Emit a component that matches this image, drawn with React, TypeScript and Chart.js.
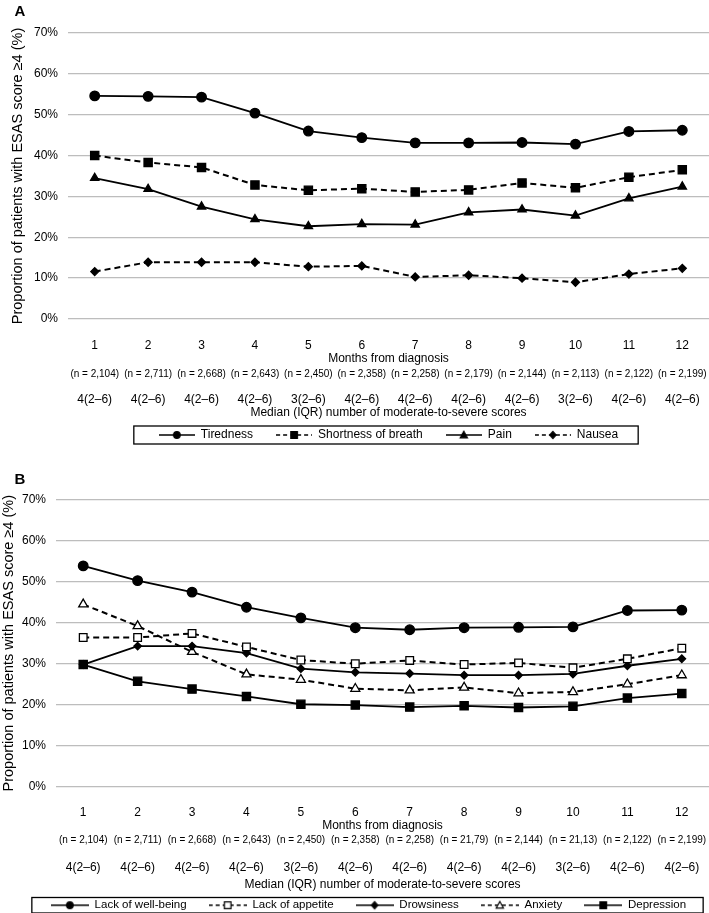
import React, { useEffect, useRef } from 'react';
import { Chart, registerables } from 'chart.js';

Chart.register(...registerables);

// ---------- data ----------
const months = ['1', '2', '3', '4', '5', '6', '7', '8', '9', '10', '11', '12'];

const nCountsA = ['(n = 2,104)', '(n = 2,711)', '(n = 2,668)', '(n = 2,643)', '(n = 2,450)', '(n = 2,358)',
  '(n = 2,258)', '(n = 2,179)', '(n = 2,144)', '(n = 2,113)', '(n = 2,122)', '(n = 2,199)'];
const nCountsB = ['(n = 2,104)', '(n = 2,711)', '(n = 2,668)', '(n = 2,643)', '(n = 2,450)', '(n = 2,358)',
  '(n = 2,258)', '(n = 21,79)', '(n = 2,144)', '(n = 21,13)', '(n = 2,122)', '(n = 2,199)'];
const medianIqr = ['4(2–6)', '4(2–6)', '4(2–6)', '4(2–6)', '3(2–6)', '4(2–6)',
  '4(2–6)', '4(2–6)', '4(2–6)', '3(2–6)', '4(2–6)', '4(2–6)'];

// Panel A
const tiredness = [54.6, 54.5, 54.3, 50.4, 46.0, 44.4, 43.1, 43.1, 43.2, 42.8, 45.9, 46.2];
const shortnessOfBreath = [40.0, 38.3, 37.1, 32.8, 31.5, 31.9, 31.1, 31.6, 33.3, 32.1, 34.7, 36.5];
const pain = [34.5, 31.8, 27.5, 24.4, 22.7, 23.2, 23.1, 26.1, 26.8, 25.3, 29.5, 32.4];
const nausea = [11.6, 13.9, 13.9, 13.9, 12.8, 13.0, 10.3, 10.7, 10.0, 9.0, 11.0, 12.4];

// Panel B
const lackOfWellBeing = [53.9, 50.3, 47.5, 43.8, 41.2, 38.8, 38.3, 38.8, 38.9, 39.0, 43.0, 43.1];
const lackOfAppetite = [36.4, 36.4, 37.4, 34.1, 30.9, 30.0, 30.8, 29.8, 30.2, 29.0, 31.2, 33.8];
const drowsiness = [29.8, 34.3, 34.3, 32.6, 28.8, 27.9, 27.6, 27.2, 27.2, 27.5, 29.5, 31.2];
const anxiety = [44.5, 39.2, 32.9, 27.4, 26.1, 23.9, 23.5, 24.2, 22.8, 23.1, 25.0, 27.2];
const depression = [29.8, 25.7, 23.8, 22.0, 20.1, 19.9, 19.4, 19.7, 19.3, 19.6, 21.6, 22.7];

const yTicksMax = 70;
const yStep = 10;
const yTitle = 'Proportion of patients with ESAS score ≥4 (%)';
const xTitle = 'Months from diagnosis';
const x3Title = 'Median (IQR) number of moderate-to-severe scores';

// ---------- styling ----------
const FONT = "'Liberation Sans', Arial, Helvetica, sans-serif";
const INK = '#000';
const GRID = '#bdbdbd';

type Marker = 'circle' | 'rect' | 'triangle' | 'rectRot';
interface SeriesDef {
  label: string;
  data: number[];
  marker: Marker;
  filled: boolean;
  dashed: boolean;
  radius: number;
}

const seriesA: SeriesDef[] = [
  { label: 'Tiredness', data: tiredness, marker: 'circle', filled: true, dashed: false, radius: 4.8 },
  { label: 'Shortness of breath', data: shortnessOfBreath, marker: 'rect', filled: true, dashed: true, radius: 5.8 },
  { label: 'Pain', data: pain, marker: 'triangle', filled: true, dashed: false, radius: 4.8 },
  { label: 'Nausea', data: nausea, marker: 'rectRot', filled: true, dashed: true, radius: 4 },
];

const seriesB: SeriesDef[] = [
  { label: 'Lack of well-being', data: lackOfWellBeing, marker: 'circle', filled: true, dashed: false, radius: 4.8 },
  { label: 'Lack of appetite', data: lackOfAppetite, marker: 'rect', filled: false, dashed: true, radius: 5.4 },
  { label: 'Drowsiness', data: drowsiness, marker: 'rectRot', filled: true, dashed: false, radius: 3.8 },
  { label: 'Anxiety', data: anxiety, marker: 'triangle', filled: false, dashed: true, radius: 5.2 },
  { label: 'Depression', data: depression, marker: 'rect', filled: true, dashed: false, radius: 5.8 },
];

function makeLegendIcon(s: SeriesDef, width: number): HTMLCanvasElement {
  const c = document.createElement('canvas');
  c.width = width;
  c.height = 14;
  const ctx = c.getContext('2d') as CanvasRenderingContext2D;
  const cy = 7;
  const cx = width / 2;
  ctx.strokeStyle = INK;
  ctx.lineWidth = 1.6;
  ctx.setLineDash(s.dashed ? [4, 3] : []);
  ctx.beginPath();
  ctx.moveTo(0, cy);
  ctx.lineTo(width, cy);
  ctx.stroke();
  ctx.setLineDash([]);
  ctx.beginPath();
  if (s.marker === 'circle') {
    ctx.arc(cx, cy, 3.3, 0, Math.PI * 2);
  } else if (s.marker === 'rect') {
    ctx.rect(cx - 3.3, cy - 3.3, 6.6, 6.6);
  } else if (s.marker === 'triangle') {
    ctx.moveTo(cx, cy - 3.8);
    ctx.lineTo(cx + 3.6, cy + 2.8);
    ctx.lineTo(cx - 3.6, cy + 2.8);
    ctx.closePath();
  } else {
    ctx.moveTo(cx, cy - 3.6);
    ctx.lineTo(cx + 3.2, cy);
    ctx.lineTo(cx, cy + 3.6);
    ctx.lineTo(cx - 3.2, cy);
    ctx.closePath();
  }
  ctx.fillStyle = s.filled ? INK : '#fff';
  ctx.fill();
  ctx.lineWidth = 1.2;
  ctx.stroke();
  return c;
}

interface PanelParams {
  letter: string;
  letterBaseline: number;
  series: SeriesDef[];
  nCounts: string[];
  padTop: number;
  yAxisWidth: number;
  yTitlePadTop: number;
  p1: number;
  t1: number;
  p2: number;
  p3: number;
  t3: number;
  legendFont: number;
  legendPad: number;
  iconWidth: number;
  legendDx: number;
  legendDy: number;
  boxPadL: number;
  boxPadR: number;
  boxPadV: number;
}

const noSidePadding = (scale: any) => {
  scale.paddingLeft = 0;
  scale.paddingRight = 0;
};

function buildConfig(p: PanelParams): any {
  const icons = p.series.map((s) => makeLegendIcon(s, p.iconWidth));

  const datasets = p.series.map((s) => ({
    label: s.label,
    data: s.data,
    borderColor: INK,
    backgroundColor: s.filled ? INK : '#fff',
    borderWidth: s.dashed ? 2 : 1.8,
    borderDash: s.dashed ? [6, 4] : [],
    pointStyle: s.marker,
    pointRadius: s.radius,
    pointBackgroundColor: s.filled ? INK : '#fff',
    pointBorderColor: INK,
    pointBorderWidth: 1.3,
    tension: 0,
    fill: false,
  }));

  const shiftPlugin = {
    id: 'legendShift' + p.letter,
    afterLayout(chart: any) {
      const l = chart.legend;
      if (!l) return;
      l.left += p.legendDx;
      l.right += p.legendDx;
      l.top += p.legendDy;
      l.bottom += p.legendDy;
    },
  };

  const decorPlugin = {
    id: 'decor' + p.letter,
    afterDraw(chart: any) {
      const ctx = chart.ctx as CanvasRenderingContext2D;
      const l = chart.legend;
      if (l && l.legendHitBoxes && l.legendHitBoxes.length) {
        const hb = l.legendHitBoxes;
        let minL = Infinity, maxR = -Infinity, minT = Infinity, maxB = -Infinity;
        for (const h of hb) {
          minL = Math.min(minL, h.left);
          maxR = Math.max(maxR, h.left + h.width);
          minT = Math.min(minT, h.top);
          maxB = Math.max(maxB, h.top + h.height);
        }
        ctx.save();
        ctx.strokeStyle = INK;
        ctx.lineWidth = 1.3;
        ctx.strokeRect(minL - p.boxPadL, minT - p.boxPadV, (maxR - minL) + p.boxPadL + p.boxPadR, (maxB - minT) + 2 * p.boxPadV);
        ctx.restore();
      }
      ctx.save();
      ctx.fillStyle = INK;
      ctx.font = `bold 15px ${FONT}`;
      ctx.textBaseline = 'alphabetic';
      ctx.textAlign = 'left';
      ctx.fillText(p.letter, 14.5, p.letterBaseline);
      ctx.restore();
    },
  };

  const tickFont = { size: 12, family: FONT, lineHeight: 1.2 };

  return {
    type: 'line',
    data: { labels: months, datasets },
    plugins: [shiftPlugin, decorPlugin],
    options: {
      responsive: false,
      animation: false,
      events: [],
      layout: { autoPadding: false, padding: { top: p.padTop, left: 0, right: 0, bottom: 0 } },
      plugins: {
        tooltip: { enabled: false },
        title: { display: false },
        legend: {
          display: true,
          position: 'bottom',
          align: 'center',
          labels: {
            usePointStyle: true,
            pointStyleWidth: p.iconWidth,
            padding: p.legendPad,
            color: INK,
            font: { size: p.legendFont, family: FONT },
            generateLabels: () =>
              p.series.map((s, i) => ({
                text: s.label,
                pointStyle: icons[i],
                fillStyle: INK,
                strokeStyle: INK,
                lineWidth: 0,
                hidden: false,
                datasetIndex: i,
                fontColor: INK,
              })),
          },
        },
      },
      scales: {
        x: {
          type: 'category',
          labels: months,
          position: 'bottom',
          offset: true,
          grid: { display: false, drawTicks: false },
          border: { display: false },
          ticks: { font: tickFont, color: INK, padding: p.p1, autoSkip: false, maxRotation: 0 },
          title: {
            display: true,
            text: xTitle,
            color: INK,
            font: { size: 12, family: FONT, lineHeight: 1 },
            padding: { top: p.t1, bottom: 0 },
          },
          afterFit: noSidePadding,
        },
        x2: {
          type: 'category',
          labels: p.nCounts,
          position: 'bottom',
          offset: true,
          grid: { display: false, drawTicks: false },
          border: { display: false },
          ticks: { font: { size: 10, family: FONT, lineHeight: 1.2 }, color: INK, padding: p.p2, autoSkip: false, maxRotation: 0 },
          afterFit: noSidePadding,
        },
        x3: {
          type: 'category',
          labels: medianIqr,
          position: 'bottom',
          offset: true,
          grid: { display: false, drawTicks: false },
          border: { display: false },
          ticks: { font: tickFont, color: INK, padding: p.p3, autoSkip: false, maxRotation: 0 },
          title: {
            display: true,
            text: x3Title,
            color: INK,
            font: { size: 12, family: FONT, lineHeight: 1 },
            padding: { top: p.t3, bottom: 0 },
          },
          afterFit: noSidePadding,
        },
        y: {
          min: 0,
          max: yTicksMax,
          ticks: {
            stepSize: yStep,
            callback: (v: any) => `${v}%`,
            font: tickFont,
            color: INK,
            padding: 10,
          },
          grid: { color: GRID, lineWidth: 1.3, drawTicks: false },
          border: { display: false },
          title: {
            display: true,
            text: yTitle,
            color: INK,
            font: { size: 14.5, family: FONT, lineHeight: 1 },
            padding: { top: p.yTitlePadTop, bottom: 0 },
          },
          afterFit: (scale: any) => {
            scale.width = p.yAxisWidth;
          },
        },
      },
    },
  };
}

const panelA: PanelParams = {
  letter: 'A',
  letterBaseline: 16,
  series: seriesA,
  nCounts: nCountsA,
  padTop: 33,
  yAxisWidth: 68,
  yTitlePadTop: 11,
  p1: 19.8,
  t1: -20,
  p2: 3,
  p3: 9.8,
  t3: -10,
  legendFont: 12,
  legendPad: 23,
  iconWidth: 36,
  legendDx: 34,
  legendDy: -13,
  boxPadL: 25,
  boxPadR: 20,
  boxPadV: 3,
};

const panelB: PanelParams = {
  letter: 'B',
  letterBaseline: 19.5,
  series: seriesB,
  nCounts: nCountsB,
  padTop: 36,
  yAxisWidth: 56,
  yTitlePadTop: 2,
  p1: 19,
  t1: -19.4,
  p2: 2.3,
  p3: 11.9,
  t3: -7.8,
  legendFont: 11.5,
  legendPad: 22,
  iconWidth: 38,
  legendDx: 14,
  legendDy: -13,
  boxPadL: 19,
  boxPadR: 17,
  boxPadV: 2,
};

function ChartPanel({ params, top, height }: { params: PanelParams; top: number; height: number }) {
  const ref = useRef<HTMLCanvasElement | null>(null);
  useEffect(() => {
    if (!ref.current) return;
    const chart = new Chart(ref.current, buildConfig(params));
    return () => chart.destroy();
  }, [params]);
  return (
    <div style={{ position: 'absolute', left: 0, top, width: 709, height }}>
      <canvas ref={ref} width={709} height={height} style={{ width: 709, height, display: 'block' }} />
    </div>
  );
}

export default function App() {
  return (
    <div
      style={{
        position: 'absolute',
        left: 0,
        top: 0,
        width: 709,
        height: 913,
        overflow: 'hidden',
        background: '#fff',
      }}
    >
      <ChartPanel params={panelA} top={0} height={464} />
      <ChartPanel params={panelB} top={464} height={470} />
    </div>
  );
}
